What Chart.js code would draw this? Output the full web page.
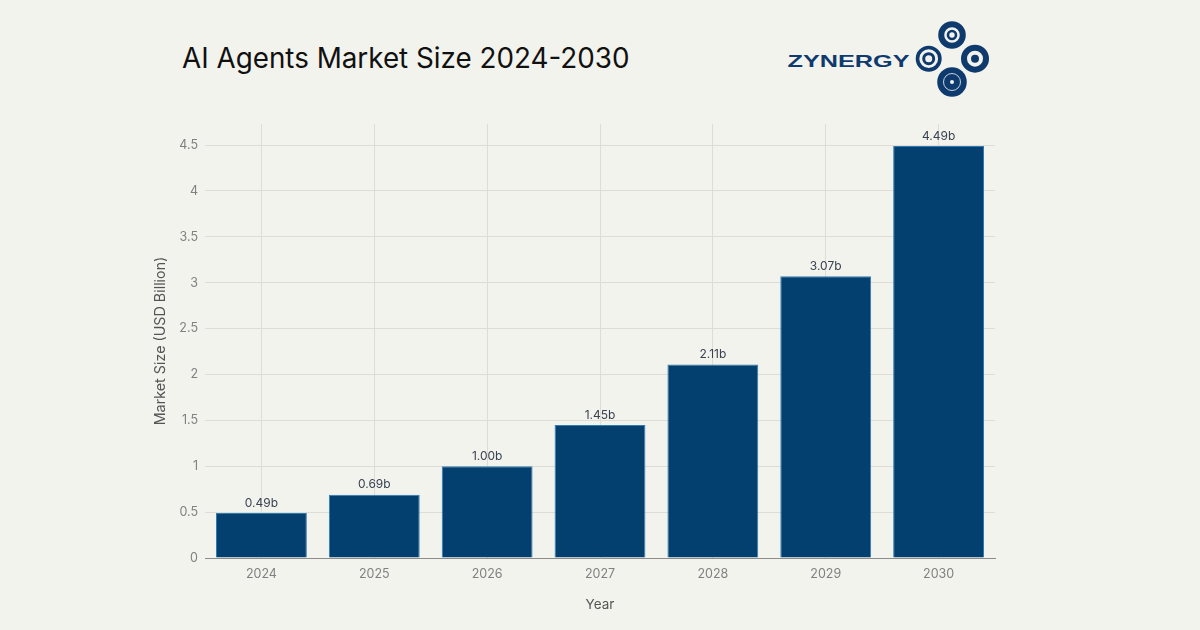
<!DOCTYPE html>
<html>
<head>
<meta charset="utf-8">
<style>
  html, body { margin: 0; padding: 0; background: #f3f3ee; }
  #wrap { position: relative; width: 1200px; height: 630px; overflow: hidden; }
  #chart { position: absolute; left: 0; top: 0; filter: blur(0.4px); }
  #title { position: absolute; left: 182px; top: 41px; font: 27.8px Inter, sans-serif; color: #111; white-space: nowrap; }
  #logo { position: absolute; left: 770px; top: 10px; }
</style>
<script src="https://cdn.jsdelivr.net/npm/chart.js@4"></script>
</head>
<body>
<div id="wrap">
  <div id="title">AI Agents Market Size 2024-2030</div>
  <svg id="logo" width="240" height="100" viewBox="0 0 240 100">
    <text x="17.5" y="57" font-family="Liberation Sans, sans-serif" font-weight="700" font-size="16.5" fill="#0f3a6e" textLength="122" lengthAdjust="spacingAndGlyphs">ZYNERGY</text>
    <g fill="none" stroke="#0f3a6e">
      <circle cx="182" cy="25" r="10.8" stroke-width="6"/>
      <circle cx="182" cy="25" r="4" stroke-width="2.6"/>
      <circle cx="158.7" cy="48.7" r="11.2" stroke-width="3.6"/>
      <circle cx="158.7" cy="48.7" r="5" stroke-width="3"/>
    </g>
    <circle cx="205" cy="48.7" r="11" fill="none" stroke="#0f3a6e" stroke-width="6"/>
    <circle cx="205" cy="48.7" r="4" fill="#0f3a6e"/>
    <circle cx="182" cy="72" r="14.8" fill="#0f3a6e"/>
    <circle cx="182" cy="72" r="8.5" fill="none" stroke="#c9d3de" stroke-width="1"/>
    <circle cx="182" cy="72" r="2" fill="#f3f3ee"/>
  </svg>
  <canvas id="chart" width="1200" height="630"></canvas>
</div>
<script>
const years = ['2024', '2025', '2026', '2027', '2028', '2029', '2030'];
const marketSize = [0.49, 0.69, 1.00, 1.45, 2.11, 3.07, 4.49];
const yAxisTop = 4.73;
const yStep = 0.5;

// value labels above the bars
const barLabels = {
    id: 'barLabels',
    afterDatasetsDraw(chart) {
        const ctx = chart.ctx;
        const meta = chart.getDatasetMeta(0);
        ctx.save();
        ctx.font = '12px Inter, sans-serif';
        ctx.fillStyle = '#3a4252';
        ctx.textAlign = 'center';
        ctx.textBaseline = 'bottom';
        meta.data.forEach((bar, i) => {
            ctx.fillText(marketSize[i].toFixed(2) + 'b', bar.x, bar.y - 4);
        });
        ctx.restore();
    }
};

new Chart(document.getElementById('chart'), {
    type: 'bar',
    data: {
        labels: years,
        datasets: [{
            data: marketSize,
            backgroundColor: '#03406f',
            borderColor: '#2f7cb5',
            borderWidth: 1,
            barPercentage: 0.805,
            categoryPercentage: 1
        }]
    },
    options: {
        responsive: false,
        animation: false,
        devicePixelRatio: 1,
        layout: { padding: { left: 145, right: 205, top: 124, bottom: 16.5 } },
        plugins: { legend: { display: false }, tooltip: { enabled: false } },
        scales: {
            x: {
                afterFit(scale) { scale.height = 55.5; },
                grid: { color: '#dddcd7', drawTicks: false, offset: false },
                border: { display: true, color: '#8c8c8c', width: 1 },
                ticks: { color: '#808080', font: { family: 'Inter', size: 12.5 }, padding: 9 },
                title: { display: true, text: 'Year', color: '#555', font: { family: 'Inter', size: 13.5 }, padding: { top: 13, bottom: 0 } }
            },
            y: {
                min: 0,
                max: yAxisTop,
                afterFit(scale) { scale.width = 60; },
                grid: { color: '#dddcd7', drawTicks: false },
                border: { display: false },
                ticks: {
                    stepSize: yStep,
                    includeBounds: false,
                    color: '#808080',
                    font: { family: 'Inter', size: 12.5 },
                    padding: 7,
                    callback: v => String(v)
                },
                title: { display: true, text: 'Market Size (USD Billion)', color: '#555', font: { family: 'Inter', size: 14.3 }, padding: { top: 7, bottom: 0 } }
            }
        }
    },
    plugins: [barLabels]
});
</script>
</body>
</html>
